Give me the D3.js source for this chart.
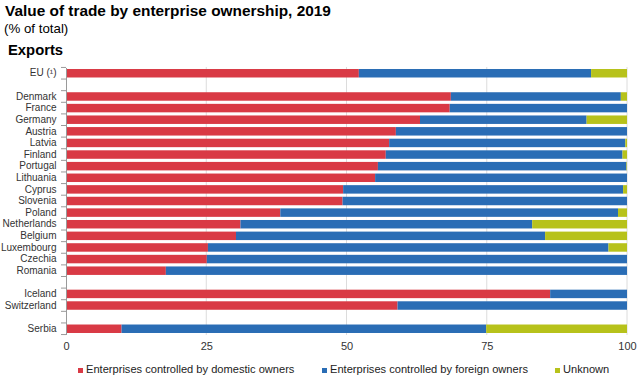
<!DOCTYPE html>
<html><head><meta charset="utf-8">
<script src="https://cdn.jsdelivr.net/npm/d3@7"></script>
<style>body{margin:0;background:#fff;}svg{display:block;font-family:"Liberation Sans",Arial,sans-serif;}</style>
</head><body>
<svg id="c" width="640" height="380"></svg>
<script>
const categories = ["EU (¹)","gap1","Denmark","France","Germany","Austria","Latvia","Finland","Portugal","Lithuania","Cyprus","Slovenia","Poland","Netherlands","Belgium","Luxembourg","Czechia","Romania","gap2","Iceland","Switzerland","gap3","Serbia"];
const domestic = [52.2,null,68.6,68.4,63.1,58.8,57.6,57.0,55.6,55.1,49.4,49.3,38.2,31.1,30.3,25.3,25.1,17.8,null,86.3,59.1,null,9.9];
const foreign  = [41.4,null,30.3,31.6,29.7,41.2,42.1,42.2,44.3,44.9,49.9,50.7,60.2,52.0,55.1,71.4,74.9,82.2,null,13.7,40.9,null,65.0];
const unknown  = [6.4,null,1.1,0,7.2,0,0.3,0.8,0.1,0,0.7,0,1.6,16.9,14.6,3.3,0,0,null,0,0,null,25.1];
const seriesNames = ["Enterprises controlled by domestic owners","Enterprises controlled by foreign owners","Unknown"];
const colors = ["#d93a45","#2a6db5","#b7c21b"];
const xTicks = [0,25,50,75,100];

const svg = d3.select("#c");
svg.append("text").attr("x",5).attr("y",16).attr("font-size",15.4).attr("font-weight","bold").attr("fill","#000").text("Value of trade by enterprise ownership, 2019");
svg.append("text").attr("x",4).attr("y",33).attr("font-size",13.3).attr("fill","#000").text("(% of total)");
svg.append("text").attr("x",8).attr("y",55).attr("font-size",14.8).attr("font-weight","bold").attr("fill","#000").text("Exports");

const x = d3.scaleLinear().domain([0,100]).range([66,627]);
const y = d3.scaleBand().domain(categories).range([67.5,334.5]).paddingInner(0.27).paddingOuter(0.13);

// gridlines
svg.append("g").selectAll("line").data(xTicks.slice(1)).join("line")
  .attr("x1",d=>x(d)).attr("x2",d=>x(d)).attr("y1",67).attr("y2",335)
  .attr("stroke","#dcdcdc").attr("stroke-width",1);

const rows = categories.map((c,i)=>({c, vals:[domestic[i],foreign[i],unknown[i]]})).filter(r=>r.vals[0]!==null);
const segs = [];
rows.forEach(r=>{let acc=0; r.vals.forEach((v,k)=>{ if(v>0){segs.push({c:r.c,x0:acc,x1:acc+v,k});} acc+=v;});});
svg.append("g").selectAll("rect").data(segs).join("rect")
  .attr("x",d=>x(d.x0)).attr("width",d=>Math.max(0,x(Math.min(100,d.x1))-x(d.x0)))
  .attr("y",d=>y(d.c)).attr("height",y.bandwidth())
  .attr("fill",d=>colors[d.k]);

// y axis
const yAxis = d3.axisLeft(y).tickSize(0).tickPadding(9.5).tickFormat(d=>d.startsWith("gap")?"":d);
const ga = svg.append("g").attr("transform","translate(66,0)").call(yAxis);
ga.select(".domain").attr("stroke","#9a9a9a");
ga.selectAll("text").attr("font-size",10).attr("fill","#333").attr("font-family","'Liberation Sans',Arial,sans-serif");
// category boundary ticks
const step = y.step();
const bounds = categories.map(c=>y(c)-(step-y.bandwidth())/2).concat([y(categories[categories.length-1])+y.bandwidth()+(step-y.bandwidth())/2]);
svg.append("g").selectAll("line").data(bounds).join("line")
  .attr("x1",61).attr("x2",66).attr("y1",d=>d).attr("y2",d=>d).attr("stroke","#9a9a9a");

// x axis
const xAxis = d3.axisBottom(x).tickValues(xTicks).tickSize(0).tickPadding(6);
const gx = svg.append("g").attr("transform","translate(0,336)").call(xAxis);
gx.select(".domain").remove();
gx.selectAll("text").attr("font-size",11).attr("fill","#333").attr("font-family","'Liberation Sans',Arial,sans-serif");

// legend
const legX = [78,322,555];
const lg = svg.append("g").selectAll("g").data(seriesNames).join("g").attr("transform",(d,i)=>`translate(${legX[i]},373)`);
lg.append("rect").attr("x",0).attr("y",-5).attr("width",5).attr("height",5).attr("fill",(d,i)=>colors[i]);
lg.append("text").attr("x",8).attr("y",0).attr("font-size",11.1).attr("fill","#222").text(d=>d);
</script>
</body></html>
